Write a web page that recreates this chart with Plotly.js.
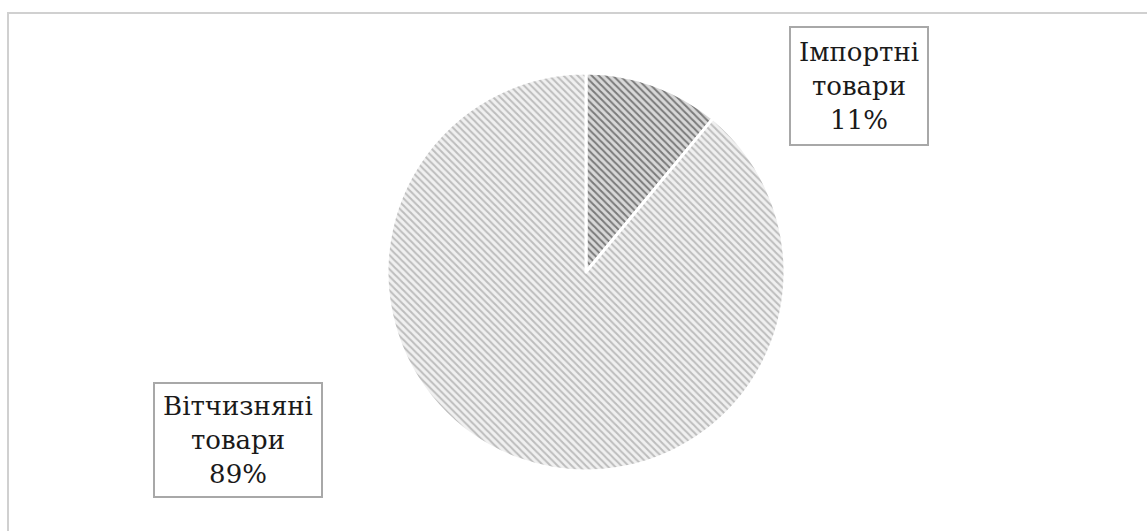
<!DOCTYPE html>
<html>
<head>
<meta charset="utf-8">
<script src="https://cdn.plot.ly/plotly-3.0.1.min.js"></script>
<style>html,body{margin:0;padding:0;background:#fff;}#chart{width:1147px;height:531px;}</style>
</head>
<body>
<div id="chart"></div>
<script>
var categories = ["Імпортні товари", "Вітчизняні товари"];
var shares = [11, 89];
var boxLabels = ["Імпортні<br>товари<br>11%", "Вітчизняні<br>товари<br>89%"];

var W = 1147, H = 531;
var cx = 586, cy = 272, r = 199;

var trace = {
  type: "pie",
  labels: categories,
  values: shares,
  sort: false,
  direction: "clockwise",
  rotation: 0,
  textinfo: "none",
  hoverinfo: "label+percent",
  showlegend: false,
  domain: {x: [(cx - r) / W, (cx + r) / W], y: [(H - cy - r) / H, (H - cy + r) / H]},
  marker: {
    colors: ["#d8d8d8", "#f0f0f0"],
    line: {color: "#ffffff", width: 3},
    pattern: {
      shape: ["\\", "\\"],
      fgcolor: ["#7a7a7a", "#bdbdbd"],
      bgcolor: ["#d8d8d8", "#f0f0f0"],
      size: 5,
      solidity: 0.4
    }
  }
};

function serifFont() {
  return {family: "DejaVu Serif", size: 26, color: "#1a1a1a"};
}

var layout = {
  width: W, height: H,
  margin: {l: 0, r: 0, t: 0, b: 0},
  paper_bgcolor: "#ffffff",
  plot_bgcolor: "#ffffff",
  shapes: [{
    type: "rect", xref: "paper", yref: "paper",
    x0: 8 / W, x1: 1.02, y0: 1 - 13 / H, y1: -0.02,
    line: {color: "#d0d0d0", width: 2}
  }],
  annotations: [
    {
      xref: "paper", yref: "paper", x: 859 / W, y: 1 - 86 / H,
      xanchor: "center", yanchor: "middle",
      text: boxLabels[0], showarrow: false, align: "center",
      font: serifFont(), bordercolor: "#a8a8a8", borderwidth: 2, borderpad: 3,
      width: 130, height: 110, bgcolor: "rgba(255,255,255,0)"
    },
    {
      xref: "paper", yref: "paper", x: 237.5 / W, y: 1 - 440 / H,
      xanchor: "center", yanchor: "middle",
      text: boxLabels[1], showarrow: false, align: "center",
      font: serifFont(), bordercolor: "#a8a8a8", borderwidth: 2, borderpad: 3,
      width: 160, height: 106, bgcolor: "rgba(255,255,255,0)"
    }
  ]
};

Plotly.newPlot("chart", [trace], layout, {displayModeBar: false, staticPlot: true});
</script>
</body>
</html>
